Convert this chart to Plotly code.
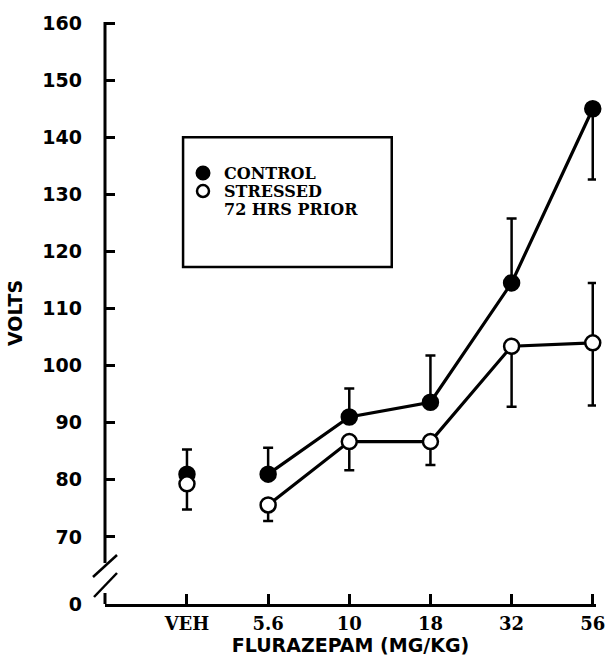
import plotly.graph_objects as go

# ---- data ----
doses = ["VEH", "5.6", "10", "18", "32", "56"]
control = [81.0, 81.0, 91.0, 93.6, 114.5, 145.0]
control_err_up = [4.3, 4.6, 5.0, 8.2, 11.3, 0.0]
control_err_down = [0.0, 0.0, 0.0, 0.0, 0.0, 12.4]
stressed = [79.3, 75.6, 86.7, 86.7, 103.4, 104.0]
stressed_err_up = [0.0, 0.0, 0.0, 0.0, 0.0, 10.5]
stressed_err_down = [4.5, 2.8, 5.0, 4.1, 10.6, 11.0]
y_ticks = [0, 70, 80, 90, 100, 110, 120, 130, 140, 150, 160]

# ---- axis break: value "0" drawn just below 70 ----
ZERO_POS = 58.25
tick_pos = [ZERO_POS if v == 0 else v for v in y_ticks]
xpos = list(range(len(doses)))

fig = go.Figure()

def add_group(vals, up, down, filled):
    marker = dict(size=15, color="black" if filled else "white",
                  line=dict(color="black", width=2.5))
    err_kw = dict(type="data", symmetric=False, color="black", thickness=2.5, width=5)
    # VEH point (not connected)
    fig.add_trace(go.Scatter(
        x=xpos[:1], y=vals[:1], mode="markers", marker=marker,
        error_y=dict(array=up[:1], arrayminus=down[:1], **err_kw),
        showlegend=False, cliponaxis=False))
    # dose-response curve
    fig.add_trace(go.Scatter(
        x=xpos[1:], y=vals[1:], mode="lines+markers", marker=marker,
        line=dict(color="black", width=3.2),
        error_y=dict(array=up[1:], arrayminus=down[1:], **err_kw),
        showlegend=False, cliponaxis=False))

add_group(control, control_err_up, control_err_down, True)
add_group(stressed, stressed_err_up, stressed_err_down, False)

tick_font = dict(family="DejaVu Sans", size=19, color="black", weight="bold")
xtick_font = dict(family="DejaVu Serif", size=18, color="black", weight="bold")
title_font = dict(family="DejaVu Sans", size=19, color="black", weight="bold")

fig.update_layout(
    width=609, height=656,
    margin=dict(l=105, r=13, t=22, b=52),
    plot_bgcolor="white", paper_bgcolor="white",
    xaxis=dict(
        range=[-1.01, 5.04], tickmode="array", tickvals=xpos, ticktext=doses,
        ticks="inside", ticklen=10, tickwidth=2.5, tickcolor="black",
        showline=True, linecolor="black", linewidth=3,
        showgrid=False, zeroline=False, tickfont=xtick_font,
        ticklabelstandoff=1, automargin=False,
        title=dict(text="FLURAZEPAM (MG/KG)", font=title_font, standoff=0),
    ),
    yaxis=dict(
        range=[ZERO_POS, 160.2], tickmode="array", tickvals=tick_pos,
        ticktext=[str(v) for v in y_ticks],
        ticks="inside", ticklen=10, tickwidth=2.5, tickcolor="black",
        showline=False, showgrid=False, zeroline=False, tickfont=tick_font,
        ticklabelstandoff=22, automargin=False,
        title=dict(text="VOLTS", font=title_font, standoff=14),
    ),
)

# y axis line with break marks
black = dict(color="black", width=3)
fig.add_shape(type="line", xref="paper", yref="y", xsizemode="pixel", ysizemode="pixel",
              xanchor=0, yanchor=ZERO_POS, x0=0, x1=0, y0=41, y1=583, line=black)
fig.add_shape(type="line", xref="paper", yref="y", xsizemode="pixel", ysizemode="pixel",
              xanchor=0, yanchor=ZERO_POS, x0=0, x1=0, y0=0, y1=11, line=black)
fig.add_shape(type="line", xref="paper", yref="y", xsizemode="pixel", ysizemode="pixel",
              xanchor=0, yanchor=ZERO_POS, x0=-12, x1=12, y0=27, y1=49, line=dict(color="black", width=2.5))
fig.add_shape(type="line", xref="paper", yref="y", xsizemode="pixel", ysizemode="pixel",
              xanchor=0, yanchor=ZERO_POS, x0=-11, x1=12, y0=7, y1=31, line=dict(color="black", width=2.5))

# legend box
fig.add_shape(type="rect", xref="paper", yref="paper", x0=0.159, x1=0.584, y0=0.579, y1=0.802,
              line=dict(color="black", width=2.5), fillcolor="white", layer="below")
fig.add_shape(type="circle", xref="paper", yref="paper", xsizemode="pixel", ysizemode="pixel",
              xanchor=0.1996, yanchor=0.7405, x0=-6.5, x1=6.5, y0=-6.5, y1=6.5,
              fillcolor="black", line=dict(color="black", width=2))
fig.add_shape(type="circle", xref="paper", yref="paper", xsizemode="pixel", ysizemode="pixel",
              xanchor=0.1996, yanchor=0.7096, x0=-6, x1=6, y0=-6, y1=6,
              fillcolor="white", line=dict(color="black", width=2.5))
leg_font = dict(family="DejaVu Serif", size=16, color="black", weight="bold")
for txt, yy in [("CONTROL", 0.7405), ("STRESSED", 0.7096), ("72 HRS PRIOR", 0.6770)]:
    fig.add_annotation(text=txt, xref="paper", yref="paper", x=0.238, y=yy,
                       xanchor="left", yanchor="middle", showarrow=False, font=leg_font)

fig.write_html("out.html")
